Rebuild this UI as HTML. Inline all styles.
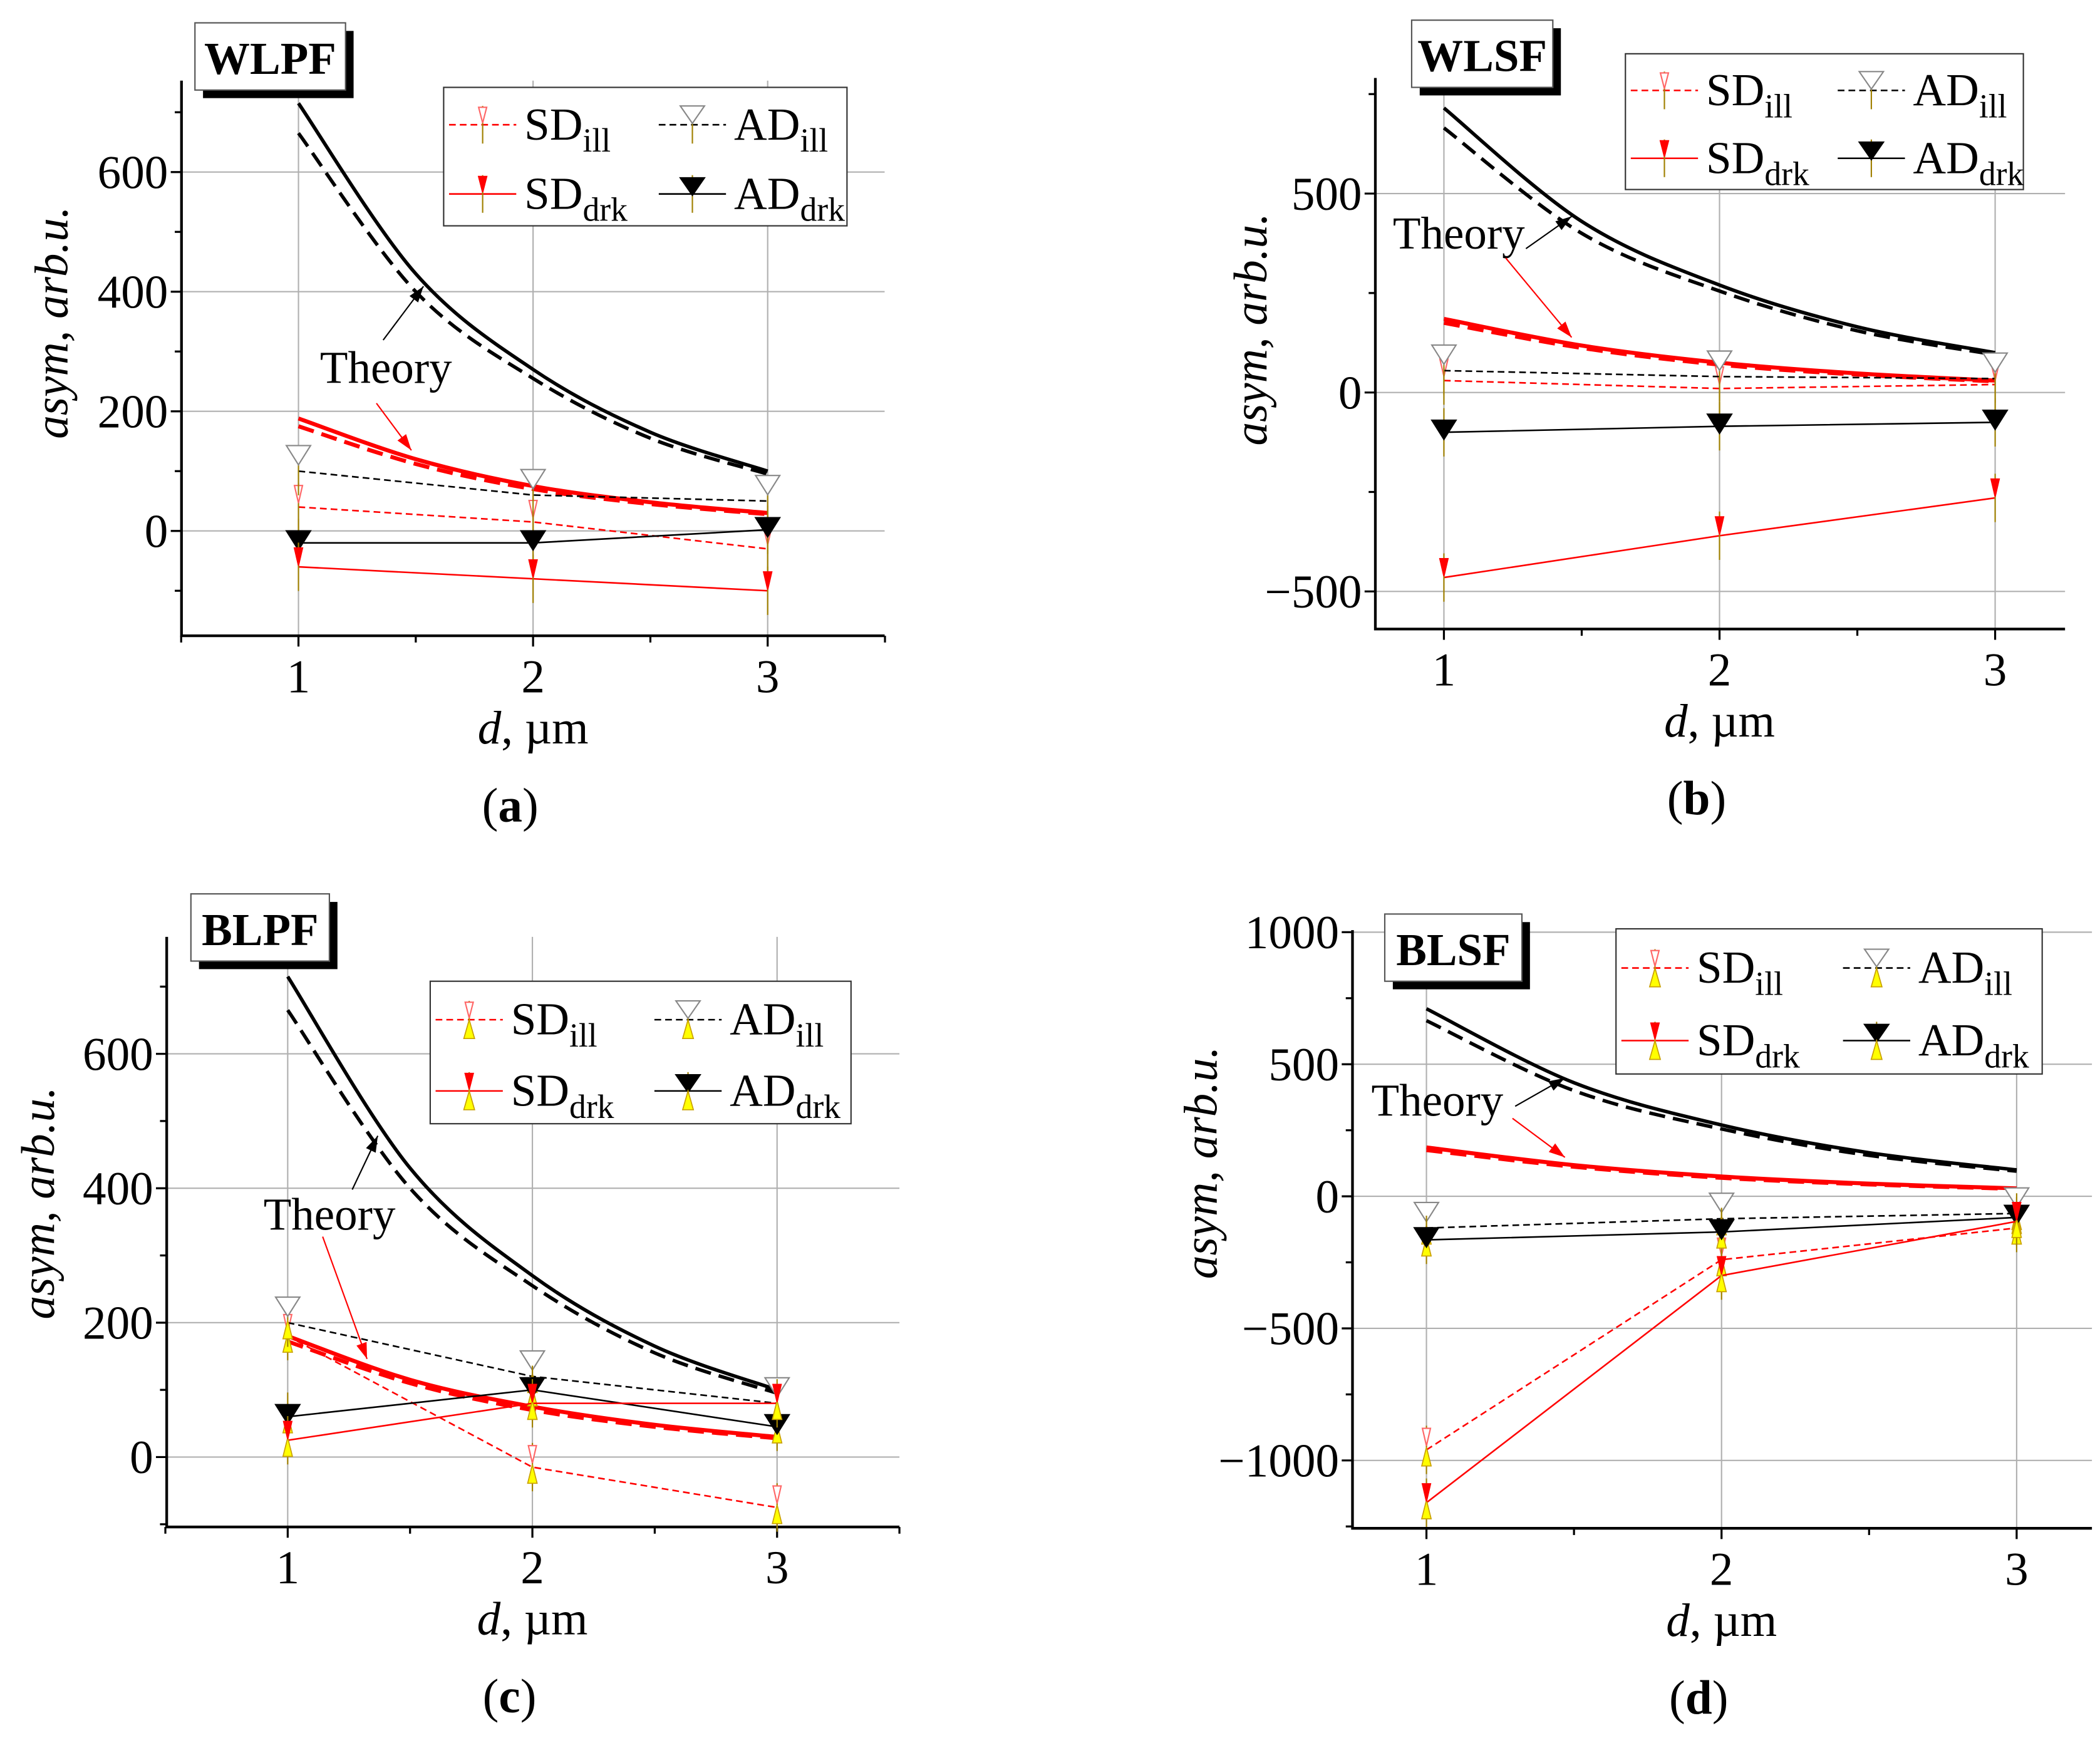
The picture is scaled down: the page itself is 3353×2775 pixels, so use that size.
<!DOCTYPE html>
<html><head><meta charset="utf-8"><style>
html,body{margin:0;padding:0;background:#fff;}
svg{display:block;font-family:"Liberation Serif","Times New Roman",serif;}
svg text, svg tspan{font-family:"Liberation Serif","Times New Roman",serif !important;fill:#000;}
</style></head><body>
<svg id="fig" font-family="Liberation Serif, serif" width="3353" height="2775" viewBox="0 0 1562 1293" preserveAspectRatio="none" xmlns="http://www.w3.org/2000/svg"></svg>
<script>
// ---- data ----
const dValues = [1, 2, 3];
const theoryD = [1, 1.5, 2, 2.5, 3];
// panel a (WLPF)
const aTheoryAD = [715, 430, 270, 165, 100];
const aTheoryADdash = [665, 400, 255, 155, 95];
const aTheorySD = [188, 120, 75, 48, 30];
const aTheorySDdash = [175, 112, 70, 45, 28];
const aSDill = [40, 15, -30];
const aADill = [100, 60, 50];
const aADdrk = [-20, -20, 2];
const aSDdrk = [-60, -80, -100];
const aYTicks = [0, 200, 400, 600];
// panel b (WLSF)
const bTheoryAD = [715, 430, 270, 165, 100];
const bTheoryADdash = [665, 400, 255, 155, 95];
const bTheorySD = [185, 118, 75, 48, 30];
const bTheorySDdash = [175, 112, 70, 45, 28];
const bSDill = [30, 10, 20];
const bADill = [55, 40, 35];
const bADdrk = [-100, -85, -75];
const bSDdrk = [-465, -360, -265];
const bYTicks = [-500, 0, 500];
// panel c (BLPF)
const cTheoryAD = [715, 430, 270, 165, 100];
const cTheoryADdash = [665, 400, 255, 155, 95];
const cTheorySD = [180, 115, 75, 48, 30];
const cTheorySDdash = [172, 110, 70, 45, 28];
const cSDill = [180, -15, -75];
const cADill = [200, 120, 80];
const cADdrk = [60, 100, 45];
const cSDdrk = [25, 80, 80];
const cYTicks = [0, 200, 400, 600];
// panel d (BLSF)
const dTheoryAD = [710, 430, 270, 165, 100];
const dTheoryADdash = [665, 400, 255, 155, 95];
const dTheorySD = [185, 118, 75, 48, 30];
const dTheorySDdash = [175, 112, 70, 45, 28];
const dSDill = [-960, -240, -120];
const dADill = [-120, -85, -65];
const dADdrk = [-165, -135, -80];
const dSDdrk = [-1160, -300, -95];
const dYTicks = [-1000, -500, 0, 500, 1000];

const NS = "http://www.w3.org/2000/svg";
const svg = document.getElementById('fig');
const FONT = 'Liberation Serif, Times New Roman, serif';
function mk(tag, attrs, parent, text) {
  const e = document.createElementNS(NS, tag);
  for (const k in attrs) e.setAttribute(k, attrs[k]);
  if (tag === 'text') e.setAttribute('font-family', FONT);
  if (text !== undefined) e.textContent = text;
  (parent || svg).appendChild(e);
  return e;
}
function smooth(pts) {
  let d = `M${pts[0][0]},${pts[0][1]}`;
  for (let i = 0; i < pts.length - 1; i++) {
    const p0 = pts[Math.max(0, i - 1)], p1 = pts[i], p2 = pts[i + 1], p3 = pts[Math.min(pts.length - 1, i + 2)];
    const c1 = [p1[0] + (p2[0] - p0[0]) / 6, p1[1] + (p2[1] - p0[1]) / 6];
    const c2 = [p2[0] - (p3[0] - p1[0]) / 6, p2[1] - (p3[1] - p1[1]) / 6];
    d += ` C${c1[0]},${c1[1]} ${c2[0]},${c2[1]} ${p2[0]},${p2[1]}`;
  }
  return d;
}
function tri(g, x, y, s, fill, stroke, w) {
  const h = s;
  return mk('polygon', {points: `${x - w},${y - h} ${x + w},${y - h} ${x},${y + h * 0.3}`, fill: fill, stroke: stroke, 'stroke-width': 1}, g);
}

function panel(c) {
  const g = mk('g', {});
  
  
  const xs = d => c.px1 + (d - 1) * (c.px3 - c.px1) / 2;
  const ys = v => c.y0 - v * c.k;
  c.yTicks.forEach(v => {
    const l = mk('line', {x1: c.left, x2: c.right, y1: ys(v), y2: ys(v), stroke: '#b0b0b0', 'stroke-width': 1}, g);
    
    
  });
  dValues.forEach(d => {
    const l = mk('line', {x1: xs(d), x2: xs(d), y1: c.top, y2: c.bottom, stroke: '#b0b0b0', 'stroke-width': 1}, g);
    
    
  });
  const ax = mk('path', {d: `M${c.left},${c.top} L${c.left},${c.bottom} L${c.right},${c.bottom}`, fill: 'none', stroke: '#000', 'stroke-width': 2}, g);
  
  
  const step = c.yTicks[1] - c.yTicks[0];
  for (let v = c.yTicks[0] - step; v <= c.yTicks[c.yTicks.length - 1] + step; v += step / 2) {
    const y = ys(v);
    if (y < c.top - 1 || y > c.bottom) continue;
    const major = c.yTicks.includes(v);
    mk('line', {x1: c.left - (major ? 8 : 5), x2: c.left, y1: y, y2: y, stroke: '#000', 'stroke-width': 1.5}, g);
  }
  c.yTicks.forEach(v => {
    const t = mk('text', {x: c.left - 10, y: ys(v) + 12, 'font-size': 35, 'text-anchor': 'end'}, g, v < 0 ? '\u2212' + Math.abs(v) : String(v));
    
    
  });
  for (let d = 0.5; d <= 3.5; d += 0.5) {
    const x = xs(d);
    if (x < c.left - 1 || x > c.right + 1) continue;
    const major = Number.isInteger(d);
    mk('line', {x1: x, x2: x, y1: c.bottom, y2: c.bottom + (major ? 8 : 5), stroke: '#000', 'stroke-width': 1.5}, g);
  }
  dValues.forEach(d => {
    const t = mk('text', {x: xs(d), y: c.bottom + 42, 'font-size': 35, 'text-anchor': 'middle'}, g, String(d));
    
    
  });
  const xt = mk('text', {x: xs(2), y: c.bottom + 80, 'font-size': 35, 'text-anchor': 'middle'}, g);
  
  
  mk('tspan', {'font-style': 'italic'}, xt, 'd');
  mk('tspan', {}, xt, ', \u00b5m');
  const yt = mk('text', {x: 0, y: 0, 'font-size': 35, 'text-anchor': 'middle', transform: `translate(${c.ylabX},${c.ylabY}) rotate(-90)`, 'font-style': 'italic'}, g, 'asym, arb.u.');
  
  
  const pl = mk('text', {x: xs(2) - 17, y: c.bottom + 138, 'font-size': 36, 'text-anchor': 'middle'}, g);
  
  
  mk('tspan', {}, pl, '(');
  mk('tspan', {'font-weight': 'bold'}, pl, c.letter);
  mk('tspan', {}, pl, ')');
  const th = [[c.thAD, '#000', 2.6, ''], [c.thADd, '#000', 2.6, '12,6'], [c.thSD, '#f00', 3, ''], [c.thSDd, '#f00', 3, '12,6']];
  th.forEach(([arr, col, w, dash], i) => {
    const p = mk('path', {d: smooth(theoryD.map((d, j) => [xs(d), ys(arr[j])])), fill: 'none', stroke: col, 'stroke-width': w, 'stroke-dasharray': dash}, g);
    
    
  });
  const series = [
    {arr: c.SDill, col: '#f00', dash: '5,3', key: 'sd-ill'},
    {arr: c.ADill, col: '#000', dash: '5,3', key: 'ad-ill'},
    {arr: c.ADdrk, col: '#000', dash: '', key: 'ad-drk'},
    {arr: c.SDdrk, col: '#f00', dash: '', key: 'sd-drk'}
  ];
  series.forEach(s => {
    const pts = dValues.map((d, j) => `${xs(d)},${ys(s.arr[j])}`).join(' ');
    const l = mk('polyline', {points: pts, fill: 'none', stroke: s.col, 'stroke-width': 1.2, 'stroke-dasharray': s.dash}, g);
    
    
    dValues.forEach((d, j) => {
      const x = xs(d), y = ys(s.arr[j]);
      mk('line', {x1: x, x2: x, y1: y - 18, y2: y + 18, stroke: '#a08000', 'stroke-width': 1}, g);
      if (c.yellow) mk('polygon', {points: `${x - 3.5},${y + 12} ${x + 3.5},${y + 12} ${x},${y - 2}`, fill: '#ff0', stroke: '#c9a000', 'stroke-width': 0.8}, g);
      let m;
      if (s.key === 'ad-ill') m = tri(g, x, y - 8, 11, '#fff', '#888', 9);
      else if (s.key === 'ad-drk') m = tri(g, x, y + 2, 11, '#000', '#000', 9);
      else if (s.key === 'sd-ill') m = tri(g, x, y - 6, 10, '#fff', '#f66', 3);
      else m = tri(g, x, y - 4, 10, '#f00', '#f00', 3);
      
      
    });
  });
  const tb = mk('g', {}, g);
  
  
  mk('rect', {x: c.tbx + 6, y: c.tby + 6, width: c.tbw, height: 50, fill: '#000'}, tb);
  mk('rect', {x: c.tbx, y: c.tby, width: c.tbw, height: 50, fill: '#fff', stroke: '#555', 'stroke-width': 1}, tb);
  mk('text', {x: c.tbx + c.tbw / 2, y: c.tby + 38, 'font-size': 34, 'font-weight': 'bold', 'text-anchor': 'middle'}, tb, c.title);
  const lg = mk('g', {}, g);
  
  
  mk('rect', {x: c.lx, y: c.ly, width: c.lw, height: c.lh, fill: '#fff', stroke: '#333', 'stroke-width': 1}, lg);
  const ent = [['SD', 'ill', '#f00', '5,3', 0, 0, 'sd-ill'], ['AD', 'ill', '#000', '5,3', 1, 0, 'ad-ill'], ['SD', 'drk', '#f00', '', 0, 1, 'sd-drk'], ['AD', 'drk', '#000', '', 1, 1, 'ad-drk']];
  ent.forEach(([a, sub, col, dash, cx, ry, key]) => {
    const eg = mk('g', {}, lg);
    
    
    const x0 = c.lx + 4 + cx * c.lw * 0.52, y0 = c.ly + c.lh * (0.27 + ry * 0.5);
    mk('line', {x1: x0, x2: x0 + 50, y1: y0, y2: y0, stroke: col, 'stroke-width': 1.2, 'stroke-dasharray': dash}, eg);
    mk('line', {x1: x0 + 25, x2: x0 + 25, y1: y0 - 14, y2: y0 + 14, stroke: '#a08000', 'stroke-width': 1}, eg);
    if (key === 'ad-ill') tri(eg, x0 + 25, y0 - 4, 10, '#fff', '#888', 9);
    else if (key === 'ad-drk') tri(eg, x0 + 25, y0 - 2, 10, '#000', '#000', 9);
    else if (key === 'sd-ill') tri(eg, x0 + 25, y0 - 4, 9, '#fff', '#f66', 3);
    else tri(eg, x0 + 25, y0 - 4, 9, '#f00', '#f00', 3);
    if (c.yellow) mk('polygon', {points: `${x0 + 21},${y0 + 14} ${x0 + 29},${y0 + 14} ${x0 + 25},${y0}`, fill: '#ff0', stroke: '#c9a000', 'stroke-width': 0.8}, eg);
    const t = mk('text', {x: x0 + 56, y: y0 + 11, 'font-size': 34}, eg);
    mk('tspan', {}, t, a);
    mk('tspan', {dy: 9, 'font-size': 25}, t, sub);
  });
  const ta = mk('g', {}, g);
  
  
  mk('text', {x: c.thx, y: c.thy, 'font-size': 34}, ta, 'Theory');
  c.arrows.forEach(([x1, y1, x2, y2, col]) => {
    mk('line', {x1: x1, y1: y1, x2: x2, y2: y2, stroke: col, 'stroke-width': 1}, ta);
    const ang = Math.atan2(y2 - y1, x2 - x1), L = 12, W = 4;
    const bx = x2 - L * Math.cos(ang), by = y2 - L * Math.sin(ang);
    mk('polygon', {points: `${x2},${y2} ${bx - W * Math.sin(ang)},${by + W * Math.cos(ang)} ${bx + W * Math.sin(ang)},${by - W * Math.cos(ang)}`, fill: col}, ta);
  });
}

panel({name: 'wlpf', title: 'WLPF', letter: 'a', left: 135, right: 658, top: 60, bottom: 473, px1: 222, px3: 571, y0: 395, k: 89 / 200,
  yTicks: aYTicks, thAD: aTheoryAD, thADd: aTheoryADdash, thSD: aTheorySD, thSDd: aTheorySDdash,
  SDill: aSDill, ADill: aADill, ADdrk: aADdrk, SDdrk: aSDdrk, ylabX: 50, ylabY: 240,
  tbx: 145, tby: 17, tbw: 112, lx: 330, ly: 65, lw: 300, lh: 103, thx: 238, thy: 285,
  arrows: [[285, 253, 315, 213, '#000'], [280, 300, 306, 335, '#f00']]});
panel({name: 'wlsf', title: 'WLSF', letter: 'b', left: 1023, right: 1536, top: 58, bottom: 468, px1: 1074, px3: 1484, y0: 292, k: 148 / 500,
  yTicks: bYTicks, thAD: bTheoryAD, thADd: bTheoryADdash, thSD: bTheorySD, thSDd: bTheorySDdash,
  SDill: bSDill, ADill: bADill, ADdrk: bADdrk, SDdrk: bSDdrk, ylabX: 942, ylabY: 245,
  tbx: 1050, tby: 15, tbw: 105, lx: 1209, ly: 40, lw: 296, lh: 101, thx: 1036, thy: 185,
  arrows: [[1135, 185, 1169, 161, '#000'], [1120, 192, 1169, 251, '#f00']]});
panel({name: 'blpf', title: 'BLPF', letter: 'c', left: 124, right: 669, top: 697, bottom: 1136, px1: 214, px3: 578, y0: 1084, k: 100 / 200,
  yTicks: cYTicks, thAD: cTheoryAD, thADd: cTheoryADdash, thSD: cTheorySD, thSDd: cTheorySDdash,
  SDill: cSDill, ADill: cADill, ADdrk: cADdrk, SDdrk: cSDdrk, ylabX: 40, ylabY: 895, yellow: true,
  tbx: 142, tby: 665, tbw: 103, lx: 320, ly: 730, lw: 313, lh: 106, thx: 196, thy: 915,
  arrows: [[262, 885, 281, 845, '#000'], [240, 920, 273, 1011, '#f00']]});
panel({name: 'blsf', title: 'BLSF', letter: 'd', left: 1006, right: 1556, top: 692, bottom: 1137, px1: 1061, px3: 1500, y0: 890, k: 98.25 / 500,
  yTicks: dYTicks, thAD: dTheoryAD, thADd: dTheoryADdash, thSD: dTheorySD, thSDd: dTheorySDdash,
  SDill: dSDill, ADill: dADill, ADdrk: dADdrk, SDdrk: dSDdrk, ylabX: 905, ylabY: 865, yellow: true,
  tbx: 1030, tby: 680, tbw: 102, lx: 1202, ly: 691, lw: 317, lh: 108, thx: 1020, thy: 830,
  arrows: [[1127, 823, 1164, 802, '#000'], [1125, 832, 1164, 861, '#f00']]});
</script>
</body></html>
